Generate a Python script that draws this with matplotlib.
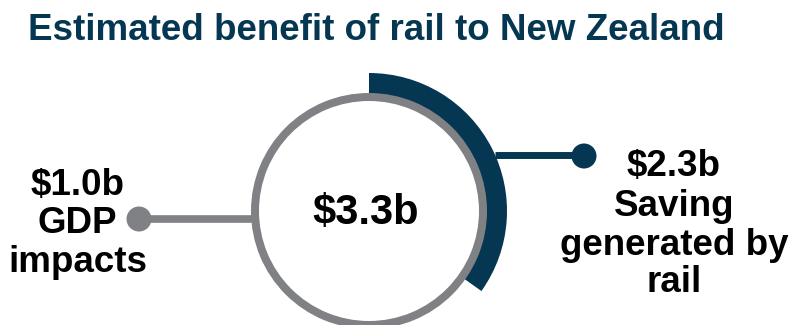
import matplotlib
matplotlib.use("Agg")
import matplotlib.pyplot as plt
from matplotlib.patches import Wedge, Circle

# Benefit components, $ billion
gdp_impacts = 1.0
rail_saving = 2.3
total_benefit = gdp_impacts + rail_saving

title = "Estimated benefit of rail to New Zealand"
left_lines = [f"${gdp_impacts:.1f}b", "GDP", "impacts"]
right_lines = [f"${rail_saving:.1f}b", "Saving", "generated by", "rail"]

NAVY = "#053752"
GREY = "#808184"
FONT = "Liberation Sans"

fig = plt.figure(figsize=(7.92, 3.25), dpi=100)
ax = fig.add_axes([0, 0, 1, 1])
# pixel-like coordinates, y growing downwards
ax.set_xlim(0, 792)
ax.set_ylim(325, 0)
ax.set_aspect("equal")
ax.axis("off")

cx, cy = 369, 211

# saving arc: share of the total over a half turn, clockwise from the top
# (angles run the other way because the y axis is flipped)
span = 180 * rail_saving / total_benefit
ax.add_patch(Wedge((cx, cy), 138, -90, -90 + span, width=22,
                   facecolor=NAVY, edgecolor="none"))

# grey ring for the total
ax.add_patch(Wedge((cx, cy), 118, 0, 360, width=8, facecolor=GREY, edgecolor="none"))

# connectors
ax.plot([495, 584], [155, 155], color=NAVY, lw=5, solid_capstyle="butt")
ax.add_patch(Circle((584, 156), 12.5, facecolor=NAVY, edgecolor="none"))
ax.plot([139, 252], [219, 219], color=GREY, lw=5.5, solid_capstyle="butt")
ax.add_patch(Circle((139, 219), 12.5, facecolor=GREY, edgecolor="none"))

ax.text(28, 40, title, fontsize=26.5, fontweight="bold", color=NAVY,
        family=FONT, ha="left", va="baseline")

ax.text(366, 224, f"${total_benefit:.1f}b", fontsize=30, fontweight="bold",
        color="black", family=FONT, ha="center", va="baseline")

for line, y in zip(left_lines, [195, 233, 272]):
    ax.text(77.5, y, line, fontsize=26.5, fontweight="bold", color="black",
            family=FONT, ha="center", va="baseline")

for line, y in zip(right_lines, [176, 216, 255, 292]):
    ax.text(674, y, line, fontsize=26.5, fontweight="bold", color="black",
            family=FONT, ha="center", va="baseline")

fig.savefig("out.png", dpi=100)
